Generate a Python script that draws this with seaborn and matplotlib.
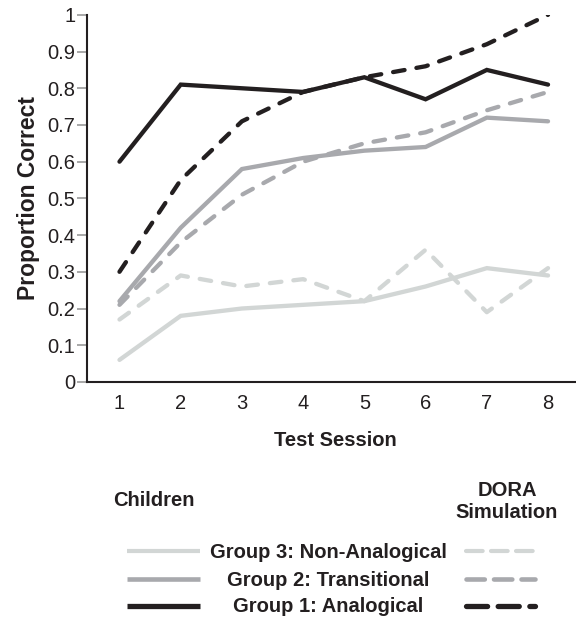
import matplotlib
matplotlib.use("Agg")
import matplotlib.pyplot as plt
from matplotlib.lines import Line2D
import seaborn as sns

sessions = [1, 2, 3, 4, 5, 6, 7, 8]

# children (solid)
child_g1 = [0.60, 0.81, 0.80, 0.79, 0.83, 0.77, 0.85, 0.81]
child_g2 = [0.22, 0.42, 0.58, 0.61, 0.63, 0.64, 0.72, 0.71]
child_g3 = [0.06, 0.18, 0.20, 0.21, 0.22, 0.26, 0.31, 0.29]

# DORA simulation (dashed)
dora_g1 = [0.30, 0.55, 0.71, 0.79, 0.83, 0.86, 0.92, 1.00]
dora_g2 = [0.21, 0.38, 0.51, 0.60, 0.65, 0.68, 0.74, 0.79]
dora_g3 = [0.17, 0.29, 0.26, 0.28, 0.22, 0.36, 0.19, 0.31]

groups = ["Group 3: Non-Analogical", "Group 2: Transitional", "Group 1: Analogical"]
yticks = [0, 0.1, 0.2, 0.3, 0.4, 0.5, 0.6, 0.7, 0.8, 0.9, 1]
ytick_labels = ["0", "0.1", "0.2", "0.3", "0.4", "0.5", "0.6", "0.7", "0.8", "0.9", "1"]

sns.set_style("white")
plt.rcParams["font.family"] = ["Liberation Sans", "DejaVu Sans"]

INK = "#231f20"
colors = {groups[0]: "#d2d6d5", groups[1]: "#a8a9ad", groups[2]: INK}
DASH = (0, (2.7, 2.8))

fig = plt.figure(figsize=(5.76, 6.19), dpi=100)
ax = fig.add_axes([0.151, 0.383, 0.849, 0.593])

children = {groups[0]: child_g3, groups[1]: child_g2, groups[2]: child_g1}
dora = {groups[0]: dora_g3, groups[1]: dora_g2, groups[2]: dora_g1}

# light lines first so the dark ones sit on top
for g in groups:
    sns.lineplot(x=sessions, y=children[g], ax=ax, color=colors[g], lw=3.1,
                 solid_capstyle="round", solid_joinstyle="miter")
    sns.lineplot(x=sessions, y=dora[g], ax=ax, color=colors[g], lw=3.1,
                 linestyle=DASH, dash_capstyle="round")

ax.set_xlim(0.469, 8.457)
ax.set_ylim(0, 1)
ax.set_xticks(sessions)
ax.set_xticklabels([str(s) for s in sessions])
ax.set_yticks(yticks)
ax.set_yticklabels(ytick_labels)
ax.tick_params(axis="x", length=0, pad=9, labelsize=14.5, labelcolor=INK)
ax.tick_params(axis="y", length=7, width=1.2, color="#9a9a9a", pad=1.5,
               labelsize=14.5, labelcolor=INK, left=True)
for side in ["top", "right"]:
    ax.spines[side].set_visible(False)
for side in ["left", "bottom"]:
    ax.spines[side].set_color(INK)
    ax.spines[side].set_linewidth(1.5)

ax.set_ylabel("Proportion Correct", fontsize=16.5, fontweight="bold", color=INK)
ax.set_xlabel("Test Session", fontsize=14.5, fontweight="bold", color=INK)
W, H = 576, 619
ax.yaxis.set_label_coords((40 - 87) / (W - 87), 0.5)
ax.xaxis.set_label_coords((335 - 87) / (W - 87), -(431 - 382) / (382 - 15))


# ---- legend block drawn below the axes ----
def fx(px):
    return px / W


def fy(py):
    return 1 - py / H


fig.text(fx(154), fy(501), "Children", ha="center", va="center",
         fontsize=14.5, fontweight="bold", color=INK)
fig.text(fx(507), fy(502), "DORA\nSimulation", ha="center", va="center",
         fontsize=14.5, fontweight="bold", color=INK, linespacing=1.2)

row_y = [551, 579, 606]
row_lw = [3.0, 3.3, 3.8]
for g, y, lw in zip(groups, row_y, row_lw):
    fig.add_artist(Line2D([fx(127), fx(200)], [fy(y), fy(y)], color=colors[g],
                          lw=lw, solid_capstyle="butt"))
    # three rounded dashes
    fig.add_artist(Line2D([fx(466), fx(535)], [fy(y), fy(y)], color=colors[g],
                          lw=lw, linestyle=(0, (4.0, 2.0)), dash_capstyle="round"))
    fig.text(fx(328), fy(y + 1), g, ha="center", va="center",
             fontsize=14.5, fontweight="bold", color=INK)

fig.savefig("out.png", dpi=100)
